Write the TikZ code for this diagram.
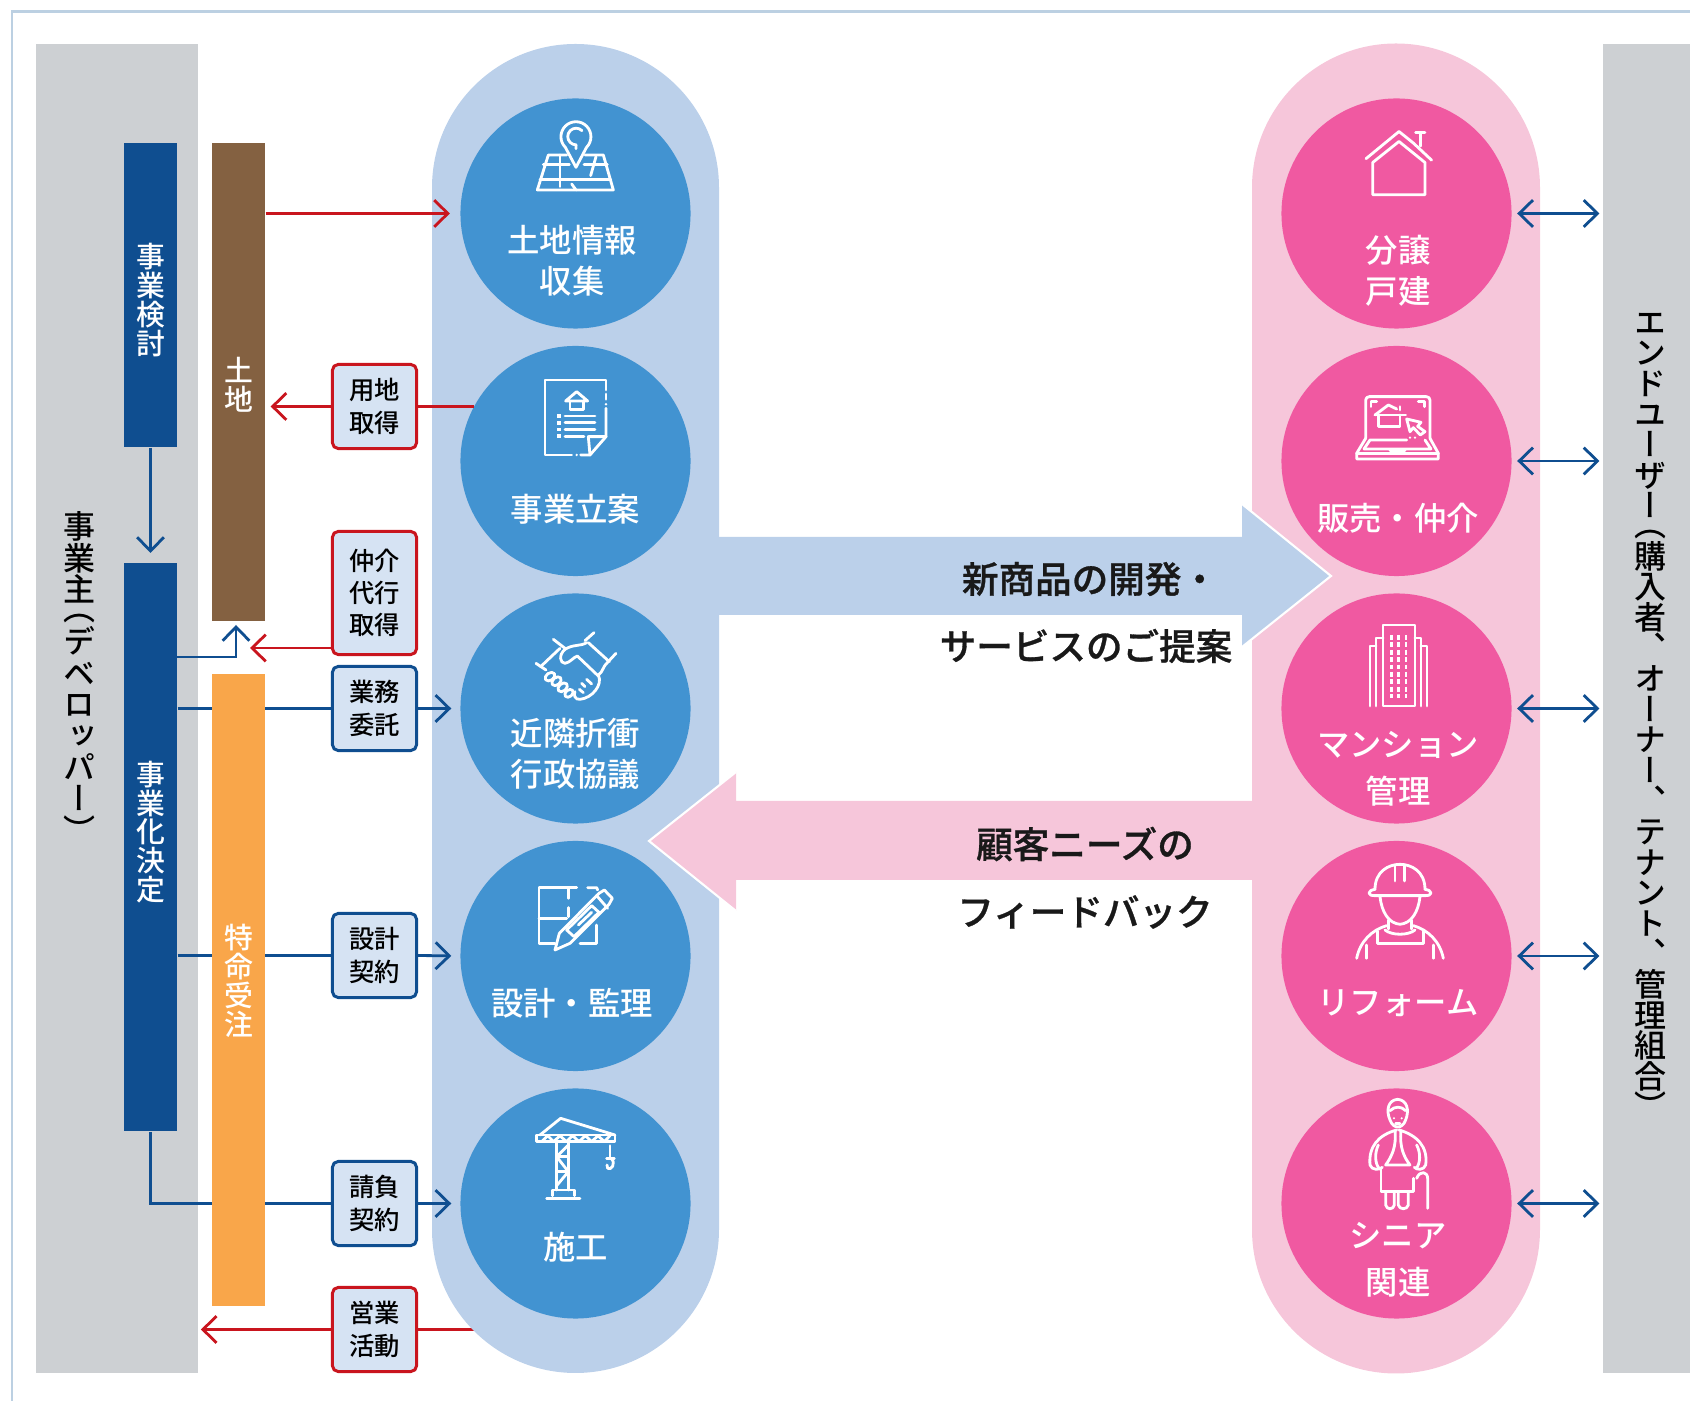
\documentclass[tikz,border=0pt]{standalone}
\usepackage{fontspec}
\setmainfont{Noto Sans CJK JP Medium}
\newfontfamily\vertfont[RawFeature=+vert]{Noto Sans CJK JP Medium}
\newfontfamily\bigfont[FakeBold=.8]{Noto Sans CJK JP Medium}
\usepackage{xcolor}
\usetikzlibrary{arrows.meta}
\lineskiplimit=-10pt
\definecolor{panelgray}{HTML}{CDD0D3}
\definecolor{pillblue}{HTML}{BBD0EA}
\definecolor{circblue}{HTML}{4293D1}
\definecolor{pillpink}{HTML}{F6C6DA}
\definecolor{circpink}{HTML}{F059A1}
\definecolor{barnavy}{HTML}{0F4E90}
\definecolor{barbrown}{HTML}{846141}
\definecolor{barorange}{HTML}{F9A64A}
\definecolor{linered}{HTML}{C9151E}
\definecolor{boxfill}{HTML}{D6E3F3}
\definecolor{framecol}{HTML}{BCD0E2}
\tikzset{
  >={Straight Barb[length=3.9pt,width=7.6pt]},
  panel/.style={fill=panelgray,inner sep=0,minimum width=1.62cm,minimum height=13.29cm},
  barnode/.style={fill=#1,inner sep=0,minimum width=.53cm},
  vtext/.style 2 args={inner sep=0,align=center,font=\vertfont\fontsize{#1}{#2}\selectfont},
  stepbox/.style={draw=#1,fill=boxfill,line width=.85pt,rounded corners=1.6pt,inner sep=0,
    minimum width=.84cm,minimum height=.84cm,align=center,font=\fontsize{7.2}{9.2}\selectfont},
  circnode/.style={circle,fill=#1,inner sep=0,minimum size=2.3cm},
  ctext/.style={text=white,inner sep=0,align=center,font=\fontsize{9.2}{11.7}\selectfont},
  bigtext/.style={text=black!90,inner sep=0,font=\bigfont\fontsize{10.4}{12}\selectfont},
  redline/.style={draw=linered,line width=.8pt},
  blueline/.style={draw=barnavy,line width=.8pt},
  icon/.style={draw=white,line width=.8pt,line join=round,line cap=round},
  zm/.style={shift={#1},scale=.3333}
}
\begin{document}
\begin{tikzpicture}[x=.01cm,y=-.01cm]
\useasboundingbox (0,0) rectangle (1690,1401);
\draw [framecol,line width=.85pt] (1690,12) -- (12,12) -- (12,1401);

\node (dev) [panel] at (117,708.5) {};
\node (user) [panel,minimum width=.87cm] at (1646.5,708.5) {};
\node (devT) [vtext={9.1}{8.95},text=black] at (80,677) {事\\業\\主\\[-3.5pt]（\\[.4pt]デ\\ベ\\ロ\\ッ\\パ\\ー\\）};
\node (userT) [vtext={9.1}{8.7},text=black] at (1650,716) {エ\\ン\\ド\\ユ\\ー\\ザ\\ー\\[-3.5pt]（\\[.4pt]購\\入\\者\\、\\オ\\ー\\ナ\\ー\\、\\テ\\ナ\\ン\\ト\\、\\管\\理\\組\\合\\）};

\node (kento) [barnode=barnavy,minimum height=3.04cm] at (150.5,295) {};
\node (kettei) [barnode=barnavy,minimum height=5.68cm] at (150.5,847) {};
\node (tochi) [barnode=barbrown,minimum height=4.78cm] at (238.5,382) {};

\node (yochi) [stepbox=linered] at (374.5,406.5) {用地\\取得};
\node (chukai) [stepbox=linered,minimum height=1.23cm] at (374.5,593) {仲介\\代行\\取得};
\node (itaku) [stepbox=barnavy] at (374.5,708.5) {業務\\委託};
\node (sekkei) [stepbox=barnavy] at (374.5,955.5) {設計\\契約};
\node (ukeoi) [stepbox=barnavy] at (374.5,1203.5) {請負\\契約};
\node (eigyo) [stepbox=linered] at (374.5,1329.5) {営業\\活動};

\coordinate (upstart) at (177,657);
\coordinate (upend) at (236,625);
\coordinate (chukaitip) at (250,648);
\draw [blueline,->,shorten >=2.6pt] (kento.south) -- (kettei.north);
\draw [blueline,->] (upstart) -| (upend);
\draw [blueline] (kettei.east |- itaku) -- (itaku.west);
\draw [blueline] (kettei.east |- sekkei) -- (sekkei.west);
\draw [blueline] (kettei.south) |- (ukeoi.west);
\draw [redline] (eigyo.east) -- (575,1329.5);

\node (tokumei) [barnode=barorange,minimum height=6.32cm] at (238.5,990) {};
\node (kentoT) [vtext={8.2}{8.2},text=white] at (150.5,300) {事\\業\\検\\討};
\node (ketteiT) [vtext={8.2}{8.2},text=white] at (150.5,832) {事\\業\\化\\決\\定};
\node (tochiT) [vtext={8.2}{8.2},text=white] at (238.5,385) {土\\地};
\node (tokumeiT) [vtext={8.2}{8.2},text=white] at (238.5,981) {特\\命\\受\\注};

\fill [pillblue] (432,187.5) arc (180:360:143.5) -- (719,1229.5) arc (0:180:143.5) -- cycle;
\fill [pillpink] (1252,187.5) arc (180:360:144) -- (1540,1229.5) arc (0:180:144) -- cycle;

\fill [pillblue] (719,537) -- (1242,537) -- (1242,504) -- (1331,576) -- (1242,647) -- (1242,615) -- (719,615) -- cycle;
\draw [white,line width=.6pt] (1242,504) -- (1331,576) -- (1242,647);
\fill [pillpink] (1252,801) -- (736,801) -- (736,772) -- (649,841) -- (736,911) -- (736,880) -- (1252,880) -- cycle;
\draw [white,line width=.6pt] (736,772) -- (649,841) -- (736,911);

\node (c1) [circnode=circblue] at (575.5,213.5) {};
\node (c2) [circnode=circblue] at (575.5,461) {};
\node (c3) [circnode=circblue] at (575.5,708.5) {};
\node (c4) [circnode=circblue] at (575.5,956) {};
\node (c5) [circnode=circblue] at (575.5,1203.5) {};
\node (p1) [circnode=circpink] at (1396.5,213.5) {};
\node (p2) [circnode=circpink] at (1396.5,461) {};
\node (p3) [circnode=circpink] at (1396.5,708.5) {};
\node (p4) [circnode=circpink] at (1396.5,956) {};
\node (p5) [circnode=circpink] at (1396.5,1203.5) {};

\draw [redline,->,shorten >=2.8pt] (tochi.east |- c1) -- (c1.west);
\draw [redline,->,shorten >=1.4pt] (yochi.west) -- (tochi.east |- yochi);
\draw [redline] (yochi.east) -- (yochi.east -| c2.151.5);
\draw [redline,->] (chukai.west |- chukaitip) -- (chukaitip);
\draw [redline,->,shorten >=.6pt] (eigyo.west) -- (dev.east |- eigyo);
\draw [blueline,->,shorten >=2.4pt] (itaku.east) -- (c3.west);
\draw [blueline,->,shorten >=2.4pt] (sekkei.east) -- (c4.west);
\draw [blueline,->,shorten >=2.4pt] (ukeoi.east) -- (c5.west);
\draw [blueline,<->,shorten <=1.4pt,shorten >=.8pt] (p1.east) -- (user.west |- p1);
\draw [blueline,<->,shorten <=1.4pt,shorten >=.8pt] (p2.east) -- (user.west |- p2);
\draw [blueline,<->,shorten <=1.4pt,shorten >=.8pt] (p3.east) -- (user.west |- p3);
\draw [blueline,<->,shorten <=1.4pt,shorten >=.8pt] (p4.east) -- (user.west |- p4);
\draw [blueline,<->,shorten <=1.4pt,shorten >=.8pt] (p5.east) -- (user.west |- p5);

\node (c1T) [ctext] at (572,261) {土地情報\\収集};
\node (c2T) [ctext] at (575.5,509) {事業立案};
\node (c3T) [ctext] at (575.5,754) {近隣折衝\\行政協議};
\node (c4T) [ctext] at (572,1003) {設計・監理};
\node (c5T) [ctext] at (575.5,1247) {施工};
\node (p1T) [ctext] at (1398,271) {分譲\\戸建};
\node (p2T) [ctext] at (1398,518) {販売・仲介};
\node (p3T) [ctext] at (1398,769) {マンション\\[1.7pt]管理};
\node (p4T) [ctext] at (1398,1003) {リフォーム};
\node (p5T) [ctext] at (1398,1260) {シニア\\[1.7pt]関連};

\node (newA) [bigtext] at (1090,579) {新商品の開発・};
\node (newB) [bigtext] at (1086,646) {サービスのご提案};
\node (needA) [bigtext] at (1085,844) {顧客ニーズの};
\node (needB) [bigtext] at (1085,912) {フィードバック};

\begin{scope}[zm={(520,110)},icon]
\draw (168,172) -- (136,112) arc (135:405:45) -- cycle;
\draw (186,62) arc (-45:-270:25) -- (168,116);
\draw (140,135) -- (85,135) -- (52,240) -- (280,240) -- (250,135) -- (195,135);
\draw (70,163) -- (148,163);
\draw (192,163) -- (262,163);
\draw (120,135) -- (120,230);
\draw (228,140) -- (212,197);
\draw (60,208) -- (272,208);
\draw (155,222) -- (168,240);
\end{scope}

\begin{scope}[zm={(520,370)},icon]
\draw (258,60) -- (258,30) -- (75,30) -- (75,255) -- (155,255);
\draw (182,255) -- (210,255) -- (258,200) -- (258,115);
\draw (258,72) -- (258,88);
\fill [white] (258,103) circle (4);
\fill [white] (170,255) circle (4);
\draw (210,255) -- (205,200) -- (258,200);
\draw (137,93) -- (170,65) -- (203,93) -- cycle;
\draw (150,93) -- (150,118) -- (190,118) -- (190,93);
\draw (135,138) -- (225,138);
\draw (135,158) -- (225,158);
\draw (135,178) -- (225,178);
\draw (135,199) -- (192,199);
\fill [white] (110,133) rectangle (122,144);
\fill [white] (110,153) rectangle (122,164);
\fill [white] (110,173) rectangle (122,184);
\fill [white] (110,193) rectangle (122,204);
\end{scope}

\begin{scope}[zm={(520,620)},icon]
\draw (48,130) -- (78,150);
\draw (62,140) -- (120,85);
\draw (100,58) -- (135,85);
\draw (195,62) -- (222,38);
\draw (262,128) -- (288,100);
\draw (205,68) -- (268,125);
\draw (135,88) .. controls (160,72) and (180,80) .. (200,68);
\draw (135,88) .. controls (115,105) and (120,130) .. (135,130) .. controls (150,128) and (160,112) .. (172,108) -- (235,168);
\draw (262,128) .. controls (245,145) and (250,155) .. (235,165) .. controls (250,195) and (215,235) .. (180,238) .. controls (165,240) and (160,225) .. (165,215);
\draw [rotate around={35:(90,170)}] (90,170) ellipse (16 and 11);
\draw [rotate around={40:(108,185)}] (110,185) ellipse (16 and 11);
\draw [rotate around={40:(128,202)}] (128,202) ellipse (16 and 11);
\draw [rotate around={40:(147,220)}] (147,220) ellipse (14 and 10);
\draw (185,190) -- (195,200);
\draw (200,178) -- (215,192);
\draw (178,208) -- (190,218);
\end{scope}

\begin{scope}[zm={(525,875)},icon]
\draw (155,38) -- (42,38) -- (42,205) -- (90,205);
\draw (188,38) -- (215,38) -- (218,45);
\draw (165,205) -- (215,205) -- (215,150);
\draw (42,130) -- (125,130);
\draw (130,38) -- (130,70);
\draw (130,98) -- (130,125);
\draw (103,175) -- (90,225) -- (135,205);
\draw (103,175) -- (222,55) -- (238,45) -- (262,70) -- (252,88) -- (135,205);
\draw (215,62) -- (248,100);
\draw (125,165) -- (200,92) -- (222,112) -- (147,185) -- cycle;
\draw (160,150) -- (200,112);
\end{scope}

\begin{scope}[zm={(525,1105)},icon]
\draw (35,90) -- (270,90) -- (270,110) -- (35,110) -- cycle;
\draw (45,90) -- (107,40) -- (270,90);
\draw (50,110) -- (68,92) -- (86,110) -- (105,92) -- (124,110) -- (143,92) -- (162,110) -- (181,92) -- (200,110) -- (219,92) -- (238,110) -- (255,92);
\draw (95,110) -- (95,255);
\draw (130,110) -- (130,255);
\draw (95,155) -- (130,155);
\draw (95,200) -- (130,200);
\draw (95,155) -- (130,120);
\draw (95,155) -- (130,200);
\draw (95,242) -- (130,200);
\draw (82,272) -- (82,255) -- (148,255) -- (148,272);
\draw (65,280) -- (165,280);
\draw (255,122) -- (255,160);
\draw (245,160) -- (268,160);
\draw (258,160) .. controls (275,175) and (258,198) .. (248,190) -- (246,180);
\end{scope}

\begin{scope}[zm={(1250,60)},yscale=1.148,icon]
\draw (348,258) -- (447,187) -- (490,217);
\draw (497,190) -- (525,190);
\draw (512,190) -- (512,225);
\draw (490,217) -- (545,262);
\draw (368,268) -- (447,213) -- (525,268) -- (525,352) -- (368,352) -- cycle;
\end{scope}

\begin{scope}[zm={(1345,385)},icon]
\draw [rounded corners=1pt] (62,160) -- (62,35) -- (255,35) -- (255,160);
\draw (62,160) -- (35,205) -- (35,222) -- (280,222) -- (280,205) -- (255,160);
\draw (35,205) -- (280,205);
\draw (57,192) -- (75,165) -- (185,165);
\draw (240,165) -- (258,192) -- (57,192);
\draw (135,197) -- (180,197);
\draw (78,65) -- (78,50) -- (95,50);
\draw (220,50) -- (238,50) -- (238,65);
\draw (90,90) -- (130,60) -- (155,72);
\draw (165,65) -- (165,75);
\draw (90,90) -- (182,90);
\draw (100,90) -- (100,125) -- (165,125) -- (165,90);
\draw (185,102) -- (228,112) -- (218,124) -- (240,140) -- (226,150) -- (205,128) -- (195,140) -- cycle;
\fill [white] (195,158) circle (4);
\fill [white] (210,158) circle (4);
\end{scope}

\begin{scope}[icon]
\draw (1383,706) -- (1383,625) -- (1415,625) -- (1415,706) -- cycle;
\draw (1376,706) -- (1376,638) -- (1383,638);
\draw (1370,706) -- (1370,646) -- (1376,646);
\draw (1421,706) -- (1421,638) -- (1415,638);
\draw (1427,706) -- (1427,646) -- (1421,646);
\draw [line cap=butt,dash pattern=on 1.4pt off .7pt] (1391.5,635) -- (1391.5,698);
\draw [line cap=butt,dash pattern=on 1.4pt off .7pt] (1398.5,635) -- (1398.5,698);
\draw [line cap=butt,dash pattern=on 1.4pt off .7pt] (1406,635) -- (1406,698);
\end{scope}

\begin{scope}[zm={(1345,855)},icon]
\draw (90,103) .. controls (90,50) and (130,28) .. (165,28) .. controls (200,28) and (240,50) .. (240,103);
\draw (90,103) .. controls (80,105) and (72,108) .. (72,114) .. controls (72,120) and (80,122) .. (90,122) -- (240,122) .. controls (250,122) and (258,120) .. (258,114) .. controls (258,108) and (250,105) .. (240,103);
\draw (150,32) -- (150,78);
\draw (178,32) -- (178,78);
\draw (105,125) .. controls (110,170) and (130,205) .. (165,208) .. controls (200,205) and (220,170) .. (225,125);
\draw (130,195) -- (130,222);
\draw (200,195) -- (200,222);
\draw (120,225) .. controls (140,242) and (190,242) .. (210,225);
\draw (35,310) .. controls (45,260) and (80,225) .. (125,212);
\draw (205,212) .. controls (250,225) and (285,260) .. (295,310);
\draw (65,310) -- (65,270);
\draw (265,310) -- (265,270);
\draw (97,228) -- (97,265) -- (235,265) -- (235,228);
\end{scope}

\begin{scope}[zm={(1345,1090)},icon]
\draw (135,90) .. controls (122,60) and (130,30) .. (158,28) .. controls (186,30) and (194,60) .. (182,90);
\draw (135,62) .. controls (150,48) and (168,48) .. (182,62);
\draw (135,90) .. controls (145,118) and (172,118) .. (182,90);
\fill [white] (147,85) circle (3.5);
\fill [white] (170,85) circle (3.5);
\draw (152,100) -- (165,100);
\draw (155,120) .. controls (100,135) and (70,170) .. (75,225) .. controls (80,242) and (105,240) .. (112,232);
\draw (162,120) .. controls (215,135) and (250,170) .. (242,225) .. controls (236,242) and (215,240) .. (208,232);
\draw (100,165) .. controls (88,190) and (90,220) .. (102,235);
\draw (215,165) .. controls (228,190) and (226,220) .. (214,235);
\draw (150,122) .. controls (155,170) and (140,200) .. (122,225) -- (195,225) .. controls (176,200) and (163,170) .. (168,122);
\draw (108,235) -- (108,305) -- (205,305) -- (205,265);
\draw (122,308) -- (122,345) .. controls (125,360) and (145,360) .. (148,345) -- (148,308);
\draw (160,308) -- (160,345) .. controls (163,360) and (187,360) .. (190,345) -- (190,308);
\draw (248,355) -- (248,265) .. controls (248,245) and (225,240) .. (215,265);
\end{scope}
\end{tikzpicture}
\end{document}
